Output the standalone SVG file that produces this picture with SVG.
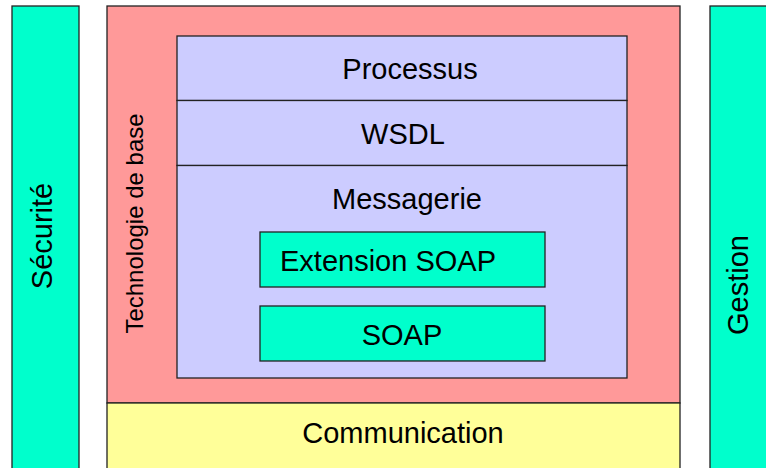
<svg xmlns="http://www.w3.org/2000/svg" width="766" height="468" viewBox="0 0 766 468">
<style>
.b{stroke:#222;stroke-width:1.3}
.g{fill:#00FFCC}
.r{fill:#FF9999}
.l{fill:#CCCCFF}
.y{fill:#FFFF99}
text{font-family:"Liberation Sans",Arial,sans-serif;font-size:29px;fill:#000}
.m{text-anchor:middle}
</style>
<rect width="766" height="468" fill="#fff"/>
<g id="securite">
<rect class="g b" x="12" y="6" width="67" height="470"/>
<text class="m" transform="translate(52,236) rotate(-90)">Sécurité</text>
</g>
<g id="gestion">
<rect class="g b" x="710" y="6" width="70" height="470"/>
<text class="m" transform="translate(748,285) rotate(-90)">Gestion</text>
</g>
<g id="technologie">
<rect class="r b" x="107" y="6" width="573" height="397"/>
<text class="m" style="font-size:24px" transform="translate(143,223.5) rotate(-90)">Technologie de base</text>
</g>
<g id="communication">
<rect class="y b" x="107" y="403" width="573" height="73"/>
<text class="m" x="403" y="443">Communication</text>
</g>
<g id="processus">
<rect class="l b" x="177" y="36" width="450" height="64.5"/>
<text class="m" x="410" y="79">Processus</text>
</g>
<g id="wsdl">
<rect class="l b" x="177" y="100.5" width="450" height="65"/>
<text class="m" x="403" y="144">WSDL</text>
</g>
<g id="messagerie">
<rect class="l b" x="177" y="165.5" width="450" height="212.5"/>
<text class="m" x="407" y="209">Messagerie</text>
</g>
<g id="extension-soap">
<rect class="g b" x="260" y="232" width="285" height="55"/>
<text x="280" y="271">Extension SOAP</text>
</g>
<g id="soap">
<rect class="g b" x="260" y="306" width="285" height="55"/>
<text class="m" x="402" y="345">SOAP</text>
</g>
<g id="connectors"></g>
</svg>
